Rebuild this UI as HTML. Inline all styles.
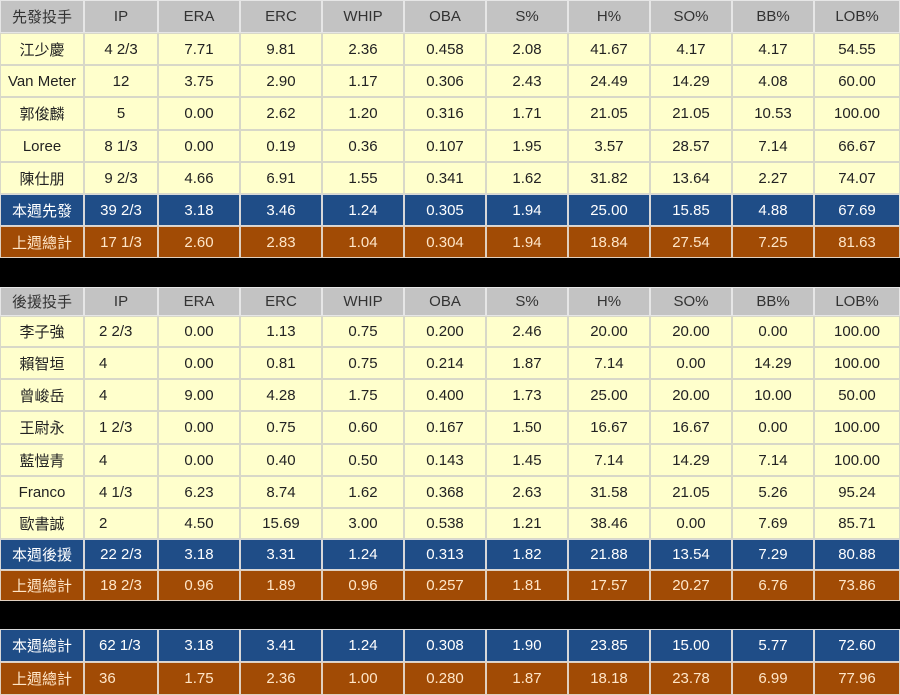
<!DOCTYPE html>
<html><head><meta charset="utf-8"><style>
body{margin:0;width:900px;height:695px;background:#fff;overflow:hidden;font-family:"Liberation Sans","Noto Sans CJK TC",sans-serif;}
#t{position:relative;width:900px;height:695px;}
.c{position:absolute;box-sizing:border-box;display:flex;align-items:center;justify-content:center;font-size:15px;white-space:nowrap;}
.h{background:#c3c3c3;color:#333;border:1px solid #e6e6e6;}
.d{background:#ffffcc;color:#222;border:1px solid #d8d8c8;}
.b{background:#1f4d87;color:#fff;border:1px solid #d8d8d8;}
.o{background:#a14b05;color:#ffe6c8;border:1px solid #e0d0c0;}
.k{position:absolute;left:0;width:900px;background:#000;}
</style></head><body>
<div id="t"></div>
<script>
const header1 = ["先發投手","IP","ERA","ERC","WHIP","OBA","S%","H%","SO%","BB%","LOB%"];
const header2 = ["後援投手","IP","ERA","ERC","WHIP","OBA","S%","H%","SO%","BB%","LOB%"];
const starters = [
["江少慶","4 2/3","7.71","9.81","2.36","0.458","2.08","41.67","4.17","4.17","54.55"],
["Van Meter","12","3.75","2.90","1.17","0.306","2.43","24.49","14.29","4.08","60.00"],
["郭俊麟","5","0.00","2.62","1.20","0.316","1.71","21.05","21.05","10.53","100.00"],
["Loree","8 1/3","0.00","0.19","0.36","0.107","1.95","3.57","28.57","7.14","66.67"],
["陳仕朋","9 2/3","4.66","6.91","1.55","0.341","1.62","31.82","13.64","2.27","74.07"]];
const startWeek = ["本週先發","39 2/3","3.18","3.46","1.24","0.305","1.94","25.00","15.85","4.88","67.69"];
const startLast = ["上週總計","17 1/3","2.60","2.83","1.04","0.304","1.94","18.84","27.54","7.25","81.63"];
const relievers = [
["李子強","2 2/3","0.00","1.13","0.75","0.200","2.46","20.00","20.00","0.00","100.00"],
["賴智垣","4","0.00","0.81","0.75","0.214","1.87","7.14","0.00","14.29","100.00"],
["曾峻岳","4","9.00","4.28","1.75","0.400","1.73","25.00","20.00","10.00","50.00"],
["王尉永","1 2/3","0.00","0.75","0.60","0.167","1.50","16.67","16.67","0.00","100.00"],
["藍愷青","4","0.00","0.40","0.50","0.143","1.45","7.14","14.29","7.14","100.00"],
["Franco","4 1/3","6.23","8.74","1.62","0.368","2.63","31.58","21.05","5.26","95.24"],
["歐書誠","2","4.50","15.69","3.00","0.538","1.21","38.46","0.00","7.69","85.71"]];
const relWeek = ["本週後援","22 2/3","3.18","3.31","1.24","0.313","1.82","21.88","13.54","7.29","80.88"];
const relLast = ["上週總計","18 2/3","0.96","1.89","0.96","0.257","1.81","17.57","20.27","6.76","73.86"];
const totWeek = ["本週總計","62 1/3","3.18","3.41","1.24","0.308","1.90","23.85","15.00","5.77","72.60"];
const totLast = ["上週總計","36","1.75","2.36","1.00","0.280","1.87","18.18","23.78","6.99","77.96"];

const colX=[0,84,158,240,322,404,486,568,650,732,814,900];
const T=document.getElementById('t');
function row(vals,top,h,cls,ipLeft){
  for(let i=0;i<vals.length;i++){
    const d=document.createElement('div');
    d.className='c '+cls;
    d.style.left=colX[i]+'px';d.style.top=top+'px';
    d.style.width=(colX[i+1]-colX[i])+'px';d.style.height=h+'px';
    if(i==1&&ipLeft){d.style.justifyContent='flex-start';d.style.paddingLeft='14px';}
    d.textContent=vals[i];
    
    
    T.appendChild(d);
  }
}
function black(top,h){const d=document.createElement('div');d.className='k';d.style.top=top+'px';d.style.height=h+'px';


T.appendChild(d);}
const b1=[0,33,65,97,130,162,194,226,258];
row(header1,b1[0],b1[1]-b1[0],'h');
starters.forEach((r,i)=>row(r,b1[i+1],b1[i+2]-b1[i+1],'d'));
row(startWeek,b1[6],32,'b');
row(startLast,b1[7],32,'o');
black(258,29);
const b2=[287,316,347,379,411,444,476,508,539,570,601];
row(header2,b2[0],b2[1]-b2[0],'h');
relievers.forEach((r,i)=>row(r,b2[i+1],b2[i+2]-b2[i+1],'d',true));
row(relWeek,b2[8],b2[9]-b2[8],'b');
row(relLast,b2[9],b2[10]-b2[9],'o');
black(601,28);
row(totWeek,629,33,'b',true);
row(totLast,662,33,'o',true);
</script>
</body></html>
